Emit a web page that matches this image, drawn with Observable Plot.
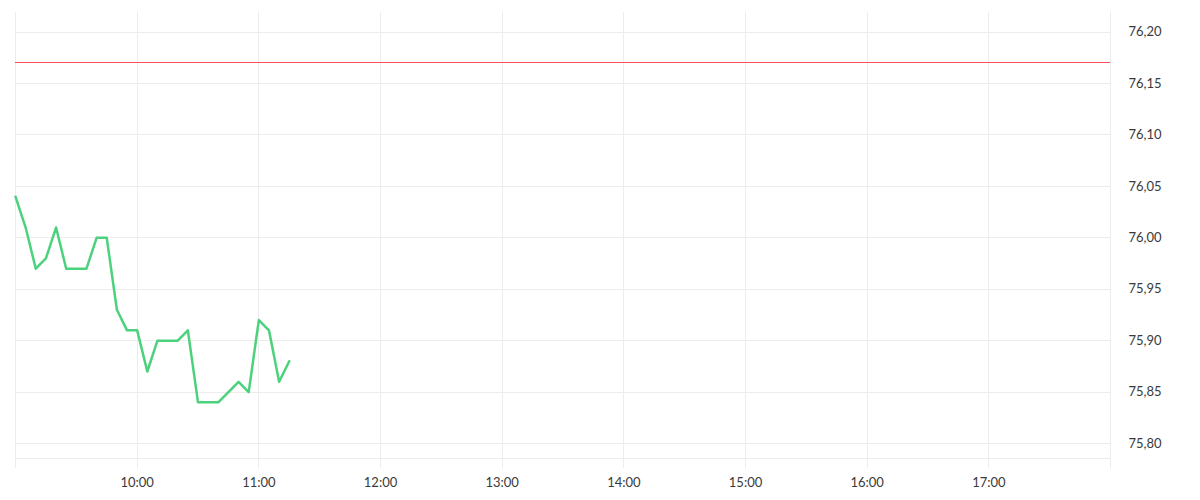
<!DOCTYPE html>
<html><head><meta charset="utf-8">
<script src="https://cdn.jsdelivr.net/npm/d3@7"></script>
<script src="https://cdn.jsdelivr.net/npm/@observablehq/plot@0.6"></script>
<style>
body{margin:0;background:#fff;}
#chart svg{display:block;}
</style>
</head><body><div id="chart"></div>
<script>
const times = ["09:00","09:05","09:10","09:15","09:20","09:25","09:30","09:35","09:40","09:45",
  "09:50","09:55","10:00","10:05","10:10","10:15","10:20","10:25","10:30","10:35",
  "10:40","10:45","10:50","10:55","11:00","11:05","11:10","11:15"];
const prices = [76.04,76.01,75.97,75.98,76.01,75.97,75.97,75.97,76.00,76.00,
  75.93,75.91,75.91,75.87,75.90,75.90,75.90,75.91,75.84,75.84,
  75.84,75.85,75.86,75.85,75.92,75.91,75.86,75.88];
const previousClose = 76.17;
const yTicks = [75.80,75.85,75.90,75.95,76.00,76.05,76.10,76.15,76.20];
const yDomain = [75.7854, 76.2191];
const xTickHours = [9,10,11,12,13,14,15,16,17,18];
const labelHours = [10,11,12,13,14,15,16,17];

const toDate = (s) => { const [h,m] = s.split(":").map(Number); return new Date(2024,0,2,h,m); };
const data = times.map((t,i) => ({time: toDate(t), price: prices[i]}));
const xTicks = xTickHours.map(h => new Date(2024,0,2,h,0));
const xDomain = [xTicks[0], xTicks[xTicks.length-1]];
const fmtX = d => labelHours.includes(d.getHours()) ? String(d.getHours()).padStart(2,"0") + ":00" : "";
const fmtY = v => d3.format(".2f")(v).replace(".", ",");
const grid = "#ececec";
const textColor = "#3a3a3a";

const chart = Plot.plot({
  width: 1200, height: 500,
  marginLeft: 15, marginRight: 90, marginTop: 12, marginBottom: 42,
  style: {fontFamily: "Lato, sans-serif", fontSize: "13px", fontWeight: 400, color: textColor, background: "#fff"},
  x: {type: "time", domain: xDomain},
  y: {domain: yDomain},
  marks: [
    Plot.gridY(yTicks, {stroke: grid, strokeOpacity: 1, shapeRendering: "crispEdges"}),
    Plot.gridX(xTicks, {stroke: grid, strokeOpacity: 1, shapeRendering: "crispEdges"}),
    Plot.ruleY([yDomain[0]], {stroke: grid, shapeRendering: "crispEdges"}),
    Plot.axisX(xTicks, {tickSize: 10, stroke: grid, strokeOpacity: 1, tickFormat: () => "", label: null, shapeRendering: "crispEdges"}),
    Plot.axisX(xTicks, {tickSize: 0, tickPadding: 19, tickFormat: fmtX, fill: textColor, label: null}),
    Plot.axisY(yTicks, {anchor: "right", tickSize: 0, tickPadding: 18, tickFormat: fmtY, fill: textColor, label: null}),
    Plot.ruleY([previousClose], {stroke: "#ff4f5a", strokeWidth: 1, shapeRendering: "crispEdges"}),
    Plot.line(data, {x: "time", y: "price", stroke: "#4cd17c", strokeWidth: 2.5})
  ]
});
document.getElementById("chart").append(chart);
</script>
</body></html>
